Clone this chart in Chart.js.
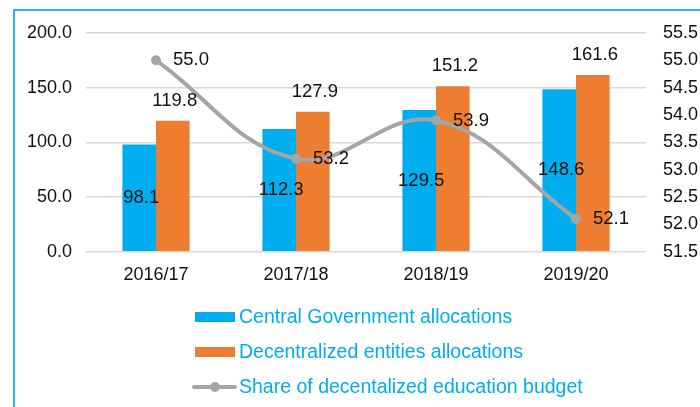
<!DOCTYPE html>
<html>
<head>
<meta charset="utf-8">
<script src="https://cdn.jsdelivr.net/npm/chart.js@4/dist/chart.umd.min.js"></script>
<style>
  html, body { margin: 0; padding: 0; background: #fff; overflow: hidden; }
  #wrap { position: relative; width: 700px; height: 407px; }
  #frame { position: absolute; left: 13px; top: 9px; width: 720px; height: 430px;
           border-left: 2px solid #2DB4F0; border-top: 2px solid #2DB4F0; box-sizing: border-box; }
  canvas { position: absolute; left: 0; top: 0; }
</style>
</head>
<body>
<div id="wrap">
  <div id="frame"></div>
  <canvas id="c" width="700" height="407"></canvas>
</div>
<script>
const categories = ['2016/17', '2017/18', '2018/19', '2019/20'];
const centralGov = [98.1, 112.3, 129.5, 148.6];
const decentralized = [119.8, 127.9, 151.2, 161.6];
const shareDecentralized = [55.0, 53.2, 53.9, 52.1];
const seriesNames = ['Central Government allocations', 'Decentralized entities allocations', 'Share of decentalized education budget'];

const FONT = '"Liberation Sans", Arial, Helvetica, sans-serif';
const BLUE = '#00AEEF';
const ORANGE = '#ED7D31';
const GRAY = '#A5A5A5';

const labelPlugin = {
  id: 'valueLabels',
  afterDatasetsDraw(chart) {
    const ctx = chart.ctx;
    ctx.save();
    ctx.font = '18.5px ' + FONT;
    ctx.fillStyle = '#111';
    ctx.textBaseline = 'middle';
    chart.data.datasets.forEach((ds, di) => {
      const meta = chart.getDatasetMeta(di);
      meta.data.forEach((el, i) => {
        const v = ds.data[i].toFixed(1);
        if (di === 0) {
          ctx.textAlign = 'center';
          ctx.fillText(v, el.x + 2, (el.y + el.base) / 2);
        } else if (di === 1) {
          ctx.textAlign = 'center';
          ctx.fillText(v, el.x + 2, el.y - 20);
        } else {
          ctx.textAlign = 'left';
          ctx.fillText(v, el.x + 17, el.y);
        }
      });
    });
    ctx.restore();
  }
};

const legendPlugin = {
  id: 'columnLegend',
  afterDraw(chart) {
    const ctx = chart.ctx;
    ctx.save();
    ctx.font = '19.5px ' + FONT;
    ctx.textBaseline = 'middle';
    ctx.textAlign = 'left';
    const x0 = 195, rows = [317, 352, 387];
    chart.data.datasets.forEach((ds, di) => {
      const y = rows[di];
      if (ds.type === 'line') {
        ctx.strokeStyle = ds.borderColor;
        ctx.lineWidth = 4;
        ctx.lineCap = 'round';
        ctx.beginPath(); ctx.moveTo(x0 - 1, y); ctx.lineTo(x0 + 40, y); ctx.stroke();
        ctx.fillStyle = ds.borderColor;
        ctx.beginPath(); ctx.arc(x0 + 20, y, 5, 0, Math.PI * 2); ctx.fill();
      } else {
        ctx.fillStyle = ds.backgroundColor;
        ctx.fillRect(x0, y - 5, 40, 10);
      }
      ctx.fillStyle = BLUE;
      ctx.fillText(ds.label, x0 + 44, y + 1);
    });
    ctx.restore();
  }
};

new Chart(document.getElementById('c'), {
  data: {
    labels: categories,
    datasets: [
      { type: 'bar', label: seriesNames[0], data: centralGov, backgroundColor: BLUE, yAxisID: 'y', order: 1,
        categoryPercentage: 0.48, barPercentage: 1.0 },
      { type: 'bar', label: seriesNames[1], data: decentralized, backgroundColor: ORANGE, yAxisID: 'y', order: 1,
        categoryPercentage: 0.48, barPercentage: 1.0 },
      { type: 'line', label: seriesNames[2], data: shareDecentralized, yAxisID: 'y1', order: 0,
        borderColor: GRAY, backgroundColor: GRAY, borderWidth: 4, tension: 0.4,
        pointRadius: 5, pointBackgroundColor: GRAY, pointBorderColor: GRAY, pointBorderWidth: 0 }
    ]
  },
  options: {
    responsive: false,
    animation: false,
    devicePixelRatio: 1,
    layout: { padding: { top: 33, left: 0, right: 0, bottom: 0 } },
    plugins: { legend: { display: false }, tooltip: { enabled: false } },
    scales: {
      x: {
        grid: { display: false, drawTicks: false },
        border: { display: false },
        ticks: { color: '#111', font: { family: FONT, size: 18 }, padding: 13 },
        afterFit(s) { s.height = 407 - 251.7; }
      },
      y: {
        position: 'left', min: 0, max: 200,
        grid: { color: '#D9D9D9', lineWidth: 1.5, drawTicks: false },
        border: { display: false },
        ticks: { stepSize: 50, color: '#111', font: { family: FONT, size: 18 }, padding: 14,
                 callback: v => Number(v).toFixed(1) },
        afterFit(s) { s.width = 86; }
      },
      y1: {
        position: 'right', min: 51.5, max: 55.5,
        grid: { display: false, drawTicks: false },
        border: { display: false },
        ticks: { stepSize: 0.5, color: '#111', font: { family: FONT, size: 18 }, padding: 17,
                 callback: v => Number(v).toFixed(1) },
        afterFit(s) { s.width = 54; }
      }
    }
  },
  plugins: [labelPlugin, legendPlugin]
});
</script>
</body>
</html>
